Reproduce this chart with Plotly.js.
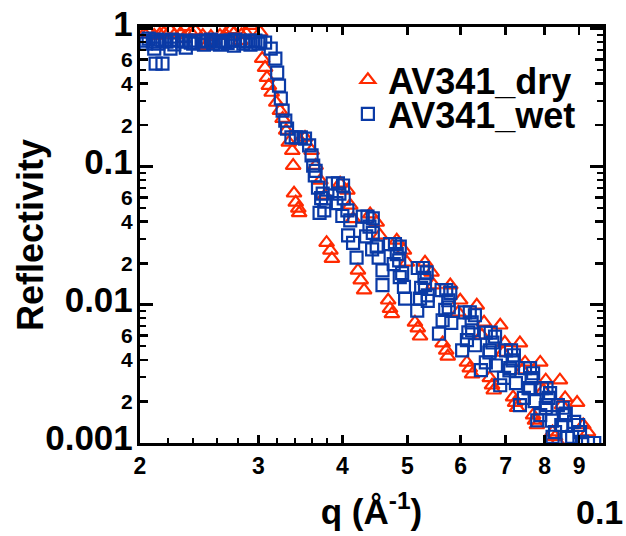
<!DOCTYPE html>
<html>
<head>
<meta charset="utf-8">
<script src="https://cdn.plot.ly/plotly-3.0.1.min.js"></script>
<style>html,body{margin:0;padding:0;background:#fff;}#chart{width:626px;height:536px;}</style>
</head>
<body>
<div id="chart"></div>
<script>
// AV341_dry (red triangles)
const dryQ = [
0.0203,0.0206,0.0210,0.0214,0.0217,0.0222,0.0225,0.0230,0.0234,0.0238,0.0242,0.0248,0.0251,0.0255,0.0263,0.0268,0.0273,0.0276,0.0283,0.0288,0.0292,0.0295,0.0302,
0.0232,0.0257,0.0282,
0.0304,0.0307,0.0309,0.0311,0.0314,0.0319,0.0323,0.0326,0.0330,0.0333,0.0337,0.0338,
0.0346,0.0352,0.0360,0.0365,0.0371,0.0377,
0.0397,0.0407,0.0411,0.0415,
0.0440,0.0450,0.0455,
0.0482,0.0494,0.0499,
0.0531,0.0543,0.0547,
0.0579,0.0599,0.0595,
0.0634,0.0650,0.0645,
0.0687,0.0698,0.0694,
0.0735,0.0748,0.0741,
0.0788,0.0803,0.0796,
0.0843,0.0858,0.0849,
0.0894,0.0913,0.0928,
0.0339,0.0341,0.0344,0.0345,
0.0379,0.0384,0.0386,
0.0422,0.0426,0.0431,
0.0468,0.0471,0.0474,
0.0513,0.0518,0.0522,
0.0564,0.0571,0.0574,
0.0613,0.0619,0.0624,
0.0663,0.0668,0.0672,
0.0718,0.0723,0.0728,
0.0769,0.0774,0.0779,
0.0822,0.0829,0.0836
];
const dryR = [
0.92,0.95,0.89,0.91,0.93,0.97,0.90,0.92,1.03,0.94,0.96,0.89,0.753,0.875,0.89,0.91,0.98,0.93,0.90,0.92,1.05,1.10,0.94,
0.847,0.819,0.819,
0.607,0.522,0.442,0.387,0.345,0.292,0.255,0.223,0.183,0.150,0.131,0.102,
0.155,0.163,0.131,0.102,0.0796,0.0620,
0.0759,0.0674,0.0525,0.0420,
0.0454,0.0395,0.0319,
0.0293,0.0248,0.0203,
0.0203,0.0172,0.0139,
0.0139,0.0108,0.00882,
0.00993,0.00747,0.00603,
0.00712,0.00533,0.00452,
0.00529,0.00383,0.00337,
0.00383,0.00285,0.00241,
0.00285,0.00212,0.00188,
0.00196,0.00135,0.00120,
0.0643,0.0552,0.0500,0.0463,
0.0282,0.0248,0.0216,
0.0178,0.0151,0.0128,
0.0108,0.0094,0.0086,
0.00747,0.00679,0.00593,
0.00529,0.00469,0.00424,
0.00383,0.00348,0.00315,
0.00296,0.00262,0.00241,
0.00215,0.00196,0.00180,
0.00159,0.00146,0.00135,
0.00120,0.00111,0.00102
];
// AV341_wet (blue squares)
const wetQ = [
0.0202,0.0206,0.0209,0.0212,0.0216,0.0219,0.0223,0.0227,0.0231,0.0234,0.0238,0.0242,0.0247,0.0251,0.0255,0.0259,0.0264,0.0268,0.0273,0.0277,0.0282,0.0287,0.0292,0.0297,0.0302,0.0307,
0.0210,0.0222,0.0234,0.0249,0.0263,0.0276,0.0292,
0.0204,0.0213,0.0225,0.0240,0.0257,0.0270,0.0285,0.0300,
0.0211,0.0216,
0.0313,0.0318,0.0320,0.0322,0.0324,0.0326,0.0329,0.0331,0.0336,0.0341,0.0347,0.0352,
0.0357,0.0360,0.0362,0.0364,0.0368,0.0372,0.0376,0.0370,0.0365,0.0374,0.0378,
0.0387,0.0394,0.0401,0.0402,0.0407,0.0411,0.0408,0.0415,0.0420,0.0396,0.0392,0.0400,
0.0429,0.0436,0.0444,0.0444,0.0450,0.0453,0.0459,0.0459,0.0439,0.0434,0.0443,
0.0471,0.0479,0.0487,0.0486,0.0491,0.0494,0.0496,0.0482,0.0477,0.0487,
0.0518,0.0527,0.0534,0.0531,0.0522,0.0517,0.0536,0.0530,0.0524,0.0536,
0.0562,0.0571,0.0579,0.0576,0.0564,0.0557,0.0575,0.0569,0.0581,
0.0609,0.0619,0.0630,0.0624,0.0613,0.0603,0.0623,0.0616,0.0630,
0.0654,0.0665,0.0675,0.0663,0.0654,0.0643,0.0669,0.0662,0.0677,
0.0701,0.0713,0.0720,0.0711,0.0696,0.0687,0.0717,0.0709,0.0725,
0.0748,0.0761,0.0769,0.0761,0.0745,0.0735,0.0765,0.0757,0.0773,
0.0793,0.0805,0.0815,0.0805,0.0788,0.0780,0.0811,0.0803,0.0820,
0.0837,0.0851,0.0860,0.0849,0.0829,0.0822,0.0856,0.0847,0.0865,
0.0885,0.0897,0.0903,0.0879,0.0909,0.0928,0.0948
];
const wetR = [
0.819,0.847,0.805,0.833,0.819,0.805,0.833,0.819,0.805,0.819,0.792,0.819,0.805,0.819,0.833,0.805,0.819,0.805,0.819,0.833,0.819,0.805,0.819,0.819,0.805,0.792,
0.717,0.717,0.729,0.766,0.766,0.753,0.766,
0.78,0.78,0.77,0.78,0.78,0.79,0.78,0.78,
0.558,0.558,
0.717,0.607,0.481,0.387,0.312,0.255,0.216,0.189,0.163,0.163,0.163,0.160,
0.143,0.121,0.102,0.0865,0.0707,0.0593,0.0483,0.0463,0.0935,0.0640,0.0560,
0.0759,0.0759,0.0732,0.0590,0.0483,0.0409,0.0319,0.0281,0.0220,0.0640,0.0545,0.0440,
0.0436,0.0436,0.0423,0.0332,0.0264,0.0220,0.0178,0.0139,0.0369,0.0313,0.0252,
0.0275,0.0275,0.0264,0.0210,0.0170,0.0135,0.0111,0.0233,0.0197,0.0159,
0.0185,0.0185,0.0172,0.0139,0.0111,0.0091,0.0117,0.0157,0.0133,0.0107,
0.0128,0.0128,0.0122,0.0096,0.00774,0.0062,0.0108,0.0092,0.0074,
0.00882,0.00882,0.00841,0.00655,0.00555,0.00469,0.00747,0.00633,0.00510,
0.00630,0.00630,0.00590,0.00469,0.00383,0.00337,0.00534,0.00452,0.00364,
0.00469,0.00469,0.00432,0.00348,0.00296,0.00262,0.00397,0.00336,0.00271,
0.00348,0.00348,0.00320,0.00250,0.00212,0.00188,0.00295,0.00250,0.00201,
0.00250,0.00250,0.00230,0.00188,0.00159,0.00146,0.00212,0.00179,0.00145,
0.00188,0.00180,0.00163,0.00135,0.00120,0.00111,0.00159,0.00135,0.00109,
0.00142,0.00135,0.00120,0.00111,0.00102,0.00100,0.00100
];

const xTickVals = [0.02,0.03,0.04,0.05,0.06,0.07,0.08,0.09];
const xTickText = ["2","3","4","5","6","7","8","9"];
const xMinorVals = [0.022,0.024,0.026,0.028,0.032,0.034,0.036,0.038];
const yTickVals = [0.001,0.002,0.004,0.006,0.01,0.02,0.04,0.06,0.1,0.2,0.4,0.6,1];
const yTickText = ["<span style='font-size:35px'>0.001</span>","2","4","6","<span style='font-size:35px'>0.01</span>","2","4","6","<span style='font-size:35px'>0.1</span>","2","4","6","<span style='font-size:35px'>1</span>"];
const yMinorVals = [0.003,0.005,0.007,0.008,0.009,0.03,0.05,0.07,0.08,0.09,0.3,0.5,0.7,0.8,0.9];
const yDecades = [0.001,0.01,0.1,1];

const RED = '#ff2a00', BLUE = '#0a3aa6';
const FONT = 'Liberation Sans, Arial, Helvetica, sans-serif';

const traces = [
  {x: dryQ, y: dryR, name: 'AV341_dry', type: 'scatter', mode: 'markers', legend: 'legend',
   marker: {symbol: 'triangle-up-open', size: 13, color: RED, line: {width: 2.2, color: RED}}},
  {x: wetQ, y: wetR, name: 'AV341_wet', type: 'scatter', mode: 'markers', legend: 'legend2',
   marker: {symbol: 'square-open', size: 12, color: BLUE, line: {width: 2.2, color: BLUE}}},
  {x: [], y: [], yaxis: 'y2', showlegend: false, type: 'scatter', mode: 'markers'}
];

const yr = [-3, 0.012];
const legFont = {family: FONT, size: 36, color: '#000', weight: 'bold'};
const layout = {
  width: 626, height: 536,
  margin: {l: 140, r: 23, t: 27, b: 93},
  paper_bgcolor: '#fff', plot_bgcolor: '#fff',
  showlegend: true,
  legend: {x: 0.449, y: 0.873, xanchor: 'left', yanchor: 'middle', font: legFont,
    bgcolor: 'rgba(0,0,0,0)', itemwidth: 30},
  legend2: {x: 0.449, y: 0.791, xanchor: 'left', yanchor: 'middle', font: legFont,
    bgcolor: 'rgba(0,0,0,0)', itemwidth: 30},
  xaxis: {type: 'log', range: [Math.log10(0.02), Math.log10(0.0977)],
    showline: true, linewidth: 3, linecolor: '#000', mirror: 'ticks',
    ticks: 'inside', ticklen: 8, tickwidth: 2.5, tickcolor: '#000',
    tickmode: 'array', tickvals: xTickVals, ticktext: xTickText,
    tickfont: {family: FONT, size: 23, color: '#000', weight: 'bold'},
    minor: {tickmode: 'array', tickvals: xMinorVals, ticks: 'inside', ticklen: 5, tickwidth: 2, tickcolor: '#000', showgrid: false},
    showgrid: false, zeroline: false,
    title: {text: 'q (Å<sup>-1</sup>)', standoff: 22, font: {family: FONT, size: 35, color: '#000', weight: 'bold'}}},
  yaxis: {type: 'log', range: yr,
    showline: true, linewidth: 3, linecolor: '#000', mirror: 'ticks',
    ticks: 'inside', ticklen: 8, tickwidth: 2.5, tickcolor: '#000',
    tickmode: 'array', tickvals: yTickVals, ticktext: yTickText,
    tickfont: {family: FONT, size: 21, color: '#000', weight: 'bold'},
    minor: {tickmode: 'array', tickvals: yMinorVals, ticks: 'inside', ticklen: 6, tickwidth: 2, tickcolor: '#000', showgrid: false},
    showgrid: false, zeroline: false},
  yaxis2: {type: 'log', range: yr, overlaying: 'y', side: 'left',
    showline: false, mirror: 'ticks', ticks: 'inside', ticklen: 13, tickwidth: 3, tickcolor: '#000',
    tickmode: 'array', tickvals: yDecades, showticklabels: false, showgrid: false, zeroline: false},
  annotations: [
    {xref: 'paper', yref: 'paper', x: -0.2376, y: 0.5, xanchor: 'center', yanchor: 'middle', textangle: -90,
     text: 'Reflectivity', showarrow: false, font: {family: FONT, size: 36, color: '#000', weight: 'bold'}},
    {xref: 'paper', yref: 'paper', x: 0.9935, y: -0.165, xanchor: 'center', yanchor: 'middle',
     text: '0.1', showarrow: false, font: {family: FONT, size: 34, color: '#000', weight: 'bold'}}
  ]
};

Plotly.newPlot('chart', traces, layout, {displayModeBar: false, staticPlot: true});
</script>
</body>
</html>
